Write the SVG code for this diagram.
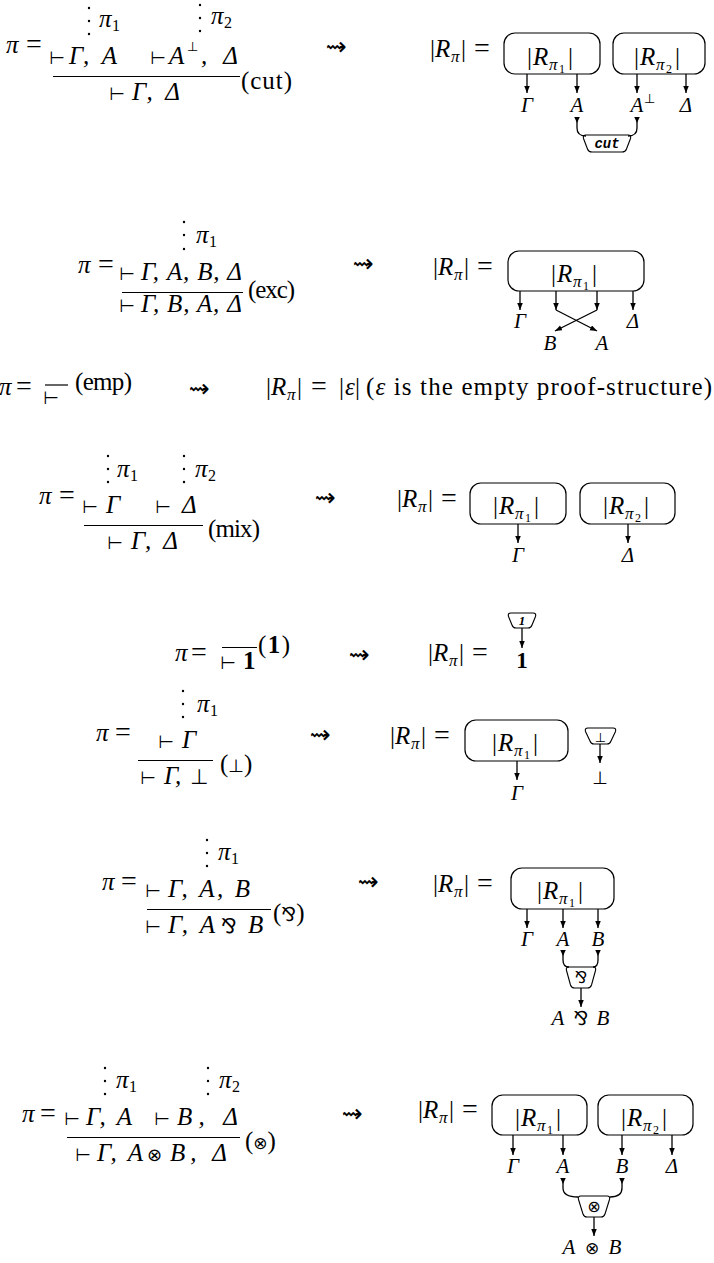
<svg xmlns="http://www.w3.org/2000/svg" width="714" height="1263" viewBox="0 0 714 1263">
<defs>
<style>
.t{font-family:'Liberation Serif','DejaVu Serif',serif;font-size:25px;fill:#000}
.i{font-style:italic}
.b{font-weight:bold}
.s{font-size:17px}
.ss{font-size:12px}
.eq{font-size:28px}
.y{font-family:'DejaVu Sans',sans-serif;font-size:21px;fill:#000}
.tu{font-family:'DejaVu Sans',sans-serif;font-size:18px;fill:#000}
.lb{font-family:'Liberation Serif','DejaVu Serif',serif;font-size:21px;font-style:italic;fill:#000;text-anchor:middle}
.bx{fill:none;stroke:#000;stroke-width:1.2}
.nd{fill:#fff;stroke:#000;stroke-width:1.1}
.w{fill:none;stroke:#000;stroke-width:1.3}
.a{marker-end:url(#ah)}
.tl{marker-start:url(#tl)}
.r{stroke:#000;stroke-width:1.2}
.sq{font-family:'DejaVu Sans',sans-serif;font-size:25px;text-anchor:middle;fill:#000}
</style>
<marker id="ah" markerUnits="userSpaceOnUse" markerWidth="8" markerHeight="6" refX="7" refY="2.75" orient="auto"><path d="M0,0 L7,2.75 L0,5.5 Z"/></marker>
<marker id="tl" markerUnits="userSpaceOnUse" markerWidth="8" markerHeight="6" refX="0" refY="2.75" orient="auto"><path d="M0,0 L6,2.75 L0,5.5 Z"/></marker>
</defs>
<rect width="714" height="1263" fill="#fff"/>

<!-- Row 1: cut -->
<g id="cut-proof">
<circle cx="89" cy="8" r="1.2"/><circle cx="89" cy="21" r="1.2"/><circle cx="89" cy="34" r="1.2"/>
<text class="t"><tspan class="i" x="99" y="27">π</tspan><tspan x="112" y="31" style="font-size:16px">1</tspan></text>
<circle cx="200" cy="5" r="1.2"/><circle cx="200" cy="18" r="1.2"/><circle cx="200" cy="31" r="1.2"/>
<text class="t"><tspan class="i" x="211" y="24">π</tspan><tspan x="224" y="28" style="font-size:16px">2</tspan></text>
<text class="t"><tspan class="i" x="6" y="53">π</tspan><tspan class="eq" x="26" y="53">=</tspan></text>
<text class="tu" x="49" y="64">⊢</text>
<text class="t i" x="69" y="64" textLength="48" lengthAdjust="spacing">Γ, A</text>
<text class="tu" x="150" y="64">⊢</text>
<text class="t i" x="169" y="64">A</text>
<text class="y" x="187" y="51" style="font-size:13px">⊥</text>
<text class="t i" x="201" y="64" textLength="37" lengthAdjust="spacing">, Δ</text>
<line class="r" x1="53" y1="76.5" x2="240" y2="76.5"/>
<text class="t" x="241" y="89" textLength="51" lengthAdjust="spacing">(cut)</text>
<text class="tu" x="109" y="100">⊢</text>
<text class="t i" x="132" y="100" textLength="48" lengthAdjust="spacing">Γ, Δ</text>
<text class="sq" x="336" y="55">⇝</text>
<text class="t"><tspan x="430" y="57">|</tspan><tspan class="i" x="435" y="57">R</tspan><tspan class="i s" x="451" y="62">π</tspan><tspan x="461" y="57">|</tspan><tspan class="eq" x="474" y="57">=</tspan></text>
</g>
<g id="cut-box1">
<rect class="bx" x="504" y="33" width="96" height="41" rx="11"/>
<text class="t"><tspan x="527" y="65">|</tspan><tspan class="i" x="533" y="65">R</tspan><tspan class="i s" x="549" y="70">π</tspan><tspan class="ss" x="559" y="73">1</tspan><tspan x="568" y="65">|</tspan></text>
</g>
<g id="cut-box2">
<rect class="bx" x="613" y="33" width="92" height="41" rx="11"/>
<text class="t"><tspan x="634" y="65">|</tspan><tspan class="i" x="640" y="65">R</tspan><tspan class="i s" x="656" y="70">π</tspan><tspan class="ss" x="666" y="73">2</tspan><tspan x="675" y="65">|</tspan></text>
</g>
<g id="cut-labels">
<text class="lb" x="527" y="112">Γ</text>
<text class="lb" x="577" y="112">A</text>
<text class="lb" x="637" y="112">A</text><text class="y" x="644" y="103" style="font-size:13px">⊥</text>
<text class="lb" x="686" y="112">Δ</text>
</g>
<g id="cut-node">
<path class="nd" d="M586,135 H628 Q631.5,135 630.5,138.5 L626.5,149 Q625.5,152 622,152 H592 Q588.5,152 587.5,149 L583.5,138.5 Q582.5,135 586,135 Z"/>
<text x="607" y="148" style="font-family:'Liberation Mono',monospace;font-size:14px;font-weight:bold;font-style:italic;text-anchor:middle">cut</text>
</g>

<!-- Row 2: exc -->
<g id="exc-proof">
<circle cx="184" cy="222" r="1.2"/><circle cx="184" cy="235" r="1.2"/><circle cx="184" cy="249" r="1.2"/>
<text class="t"><tspan class="i" x="196" y="243">π</tspan><tspan x="209" y="247" style="font-size:16px">1</tspan></text>
<text class="t"><tspan class="i" x="78" y="273">π</tspan><tspan class="eq" x="98" y="273">=</tspan></text>
<text class="tu" x="119" y="280">⊢</text>
<text class="t i" x="141" y="280" textLength="101" lengthAdjust="spacing">Γ, A, B, Δ</text>
<line class="r" x1="122" y1="292.5" x2="243" y2="292.5"/>
<text class="t" x="248" y="298" textLength="47" lengthAdjust="spacing">(exc)</text>
<text class="tu" x="119" y="312">⊢</text>
<text class="t i" x="141" y="312" textLength="101" lengthAdjust="spacing">Γ, B, A, Δ</text>
<text class="sq" x="363" y="272">⇝</text>
<text class="t"><tspan x="433" y="275">|</tspan><tspan class="i" x="438" y="275">R</tspan><tspan class="i s" x="454" y="280">π</tspan><tspan x="464" y="275">|</tspan><tspan class="eq" x="477" y="275">=</tspan></text>
</g>
<g id="exc-box">
<rect class="bx" x="508" y="251" width="136" height="40" rx="11"/>
<text class="t"><tspan x="551" y="282">|</tspan><tspan class="i" x="557" y="282">R</tspan><tspan class="i s" x="573" y="287">π</tspan><tspan class="ss" x="583" y="290">1</tspan><tspan x="592" y="282">|</tspan></text>
</g>
<g id="exc-labels">
<text class="lb" x="520" y="328">Γ</text>
<text class="lb" x="633" y="328">Δ</text>
<text class="lb" x="550" y="350">B</text>
<text class="lb" x="602" y="350">A</text>
</g>

<!-- Row 3: emp -->
<g id="emp">
<text class="t"><tspan class="i" x="-1" y="395">π</tspan><tspan class="eq" x="16" y="395">=</tspan></text>
<line class="r" x1="45" y1="385" x2="68" y2="385"/>
<text class="tu" x="43" y="404">⊢</text>
<text class="t" x="75" y="390" textLength="57" lengthAdjust="spacing">(emp)</text>
<text class="sq" x="199" y="397">⇝</text>
<text class="t"><tspan x="266" y="395">|</tspan><tspan class="i" x="271" y="395">R</tspan><tspan class="i s" x="287" y="400">π</tspan><tspan x="297" y="395">|</tspan><tspan class="eq" x="311" y="395">=</tspan><tspan x="339" y="395">|</tspan><tspan class="i" x="345" y="395">ε</tspan><tspan x="355" y="395">|</tspan></text>
<text class="t" x="366" y="395" textLength="346" lengthAdjust="spacing">(<tspan class="i">ε</tspan> is the empty proof-structure)</text>
</g>

<!-- Row 4: mix -->
<g id="mix-proof">
<circle cx="108" cy="456" r="1.2"/><circle cx="108" cy="469" r="1.2"/><circle cx="108" cy="482" r="1.2"/>
<text class="t"><tspan class="i" x="117" y="477">π</tspan><tspan x="130" y="481" style="font-size:16px">1</tspan></text>
<circle cx="184" cy="456" r="1.2"/><circle cx="184" cy="469" r="1.2"/><circle cx="184" cy="482" r="1.2"/>
<text class="t"><tspan class="i" x="195" y="477">π</tspan><tspan x="208" y="481" style="font-size:16px">2</tspan></text>
<text class="t"><tspan class="i" x="39" y="504">π</tspan><tspan class="eq" x="59" y="504">=</tspan></text>
<text class="tu" x="82" y="513">⊢</text>
<text class="t i" x="106" y="513">Γ</text>
<text class="tu" x="155" y="513">⊢</text>
<text class="t i" x="182" y="513">Δ</text>
<line class="r" x1="84" y1="525.5" x2="203" y2="525.5"/>
<text class="t" x="208" y="537" textLength="52" lengthAdjust="spacing">(mix)</text>
<text class="tu" x="107" y="549">⊢</text>
<text class="t i" x="131" y="549" textLength="47" lengthAdjust="spacing">Γ, Δ</text>
<text class="sq" x="325" y="506">⇝</text>
<text class="t"><tspan x="397" y="507">|</tspan><tspan class="i" x="402" y="507">R</tspan><tspan class="i s" x="418" y="512">π</tspan><tspan x="428" y="507">|</tspan><tspan class="eq" x="441" y="507">=</tspan></text>
</g>
<g id="mix-box1">
<rect class="bx" x="470" y="483" width="96" height="41" rx="11"/>
<text class="t"><tspan x="493" y="514">|</tspan><tspan class="i" x="499" y="514">R</tspan><tspan class="i s" x="515" y="519">π</tspan><tspan class="ss" x="525" y="522">1</tspan><tspan x="534" y="514">|</tspan></text>
</g>
<g id="mix-box2">
<rect class="bx" x="580" y="483" width="95" height="41" rx="11"/>
<text class="t"><tspan x="603" y="514">|</tspan><tspan class="i" x="609" y="514">R</tspan><tspan class="i s" x="625" y="519">π</tspan><tspan class="ss" x="635" y="522">2</tspan><tspan x="644" y="514">|</tspan></text>
</g>
<g id="mix-labels">
<text class="lb" x="518" y="562">Γ</text>
<text class="lb" x="628" y="562">Δ</text>
</g>

<!-- Row 5: one -->
<g id="one-proof">
<text class="t"><tspan class="i" x="175" y="661">π</tspan><tspan class="eq" x="191" y="661">=</tspan></text>
<line class="r" x1="222" y1="647.5" x2="257" y2="647.5"/>
<text class="tu" x="220" y="669">⊢</text>
<text class="t b" x="243" y="669">1</text>
<text class="t" x="258" y="653" textLength="32" lengthAdjust="spacing">(<tspan class="b">1</tspan>)</text>
<text class="sq" x="359" y="663">⇝</text>
<text class="t"><tspan x="428" y="661">|</tspan><tspan class="i" x="433" y="661">R</tspan><tspan class="i s" x="449" y="666">π</tspan><tspan x="459" y="661">|</tspan><tspan class="eq" x="472" y="661">=</tspan></text>
</g>
<g id="one-node">
<path class="nd" d="M511,613 H533 Q536.5,613 535.5,616.5 L532,625 Q531,628 528,628 H516 Q513,628 512,625 L508.5,616.5 Q507.5,613 511,613 Z"/>
<text x="522" y="625" style="font-family:'Liberation Serif',serif;font-size:13px;font-weight:bold;font-style:italic;text-anchor:middle">1</text>
</g>
<g id="one-label">
<text class="t b" x="522" y="668" style="text-anchor:middle;font-size:23px">1</text>
</g>

<!-- Row 6: bot -->
<g id="bot-proof">
<circle cx="183" cy="691" r="1.2"/><circle cx="183" cy="704" r="1.2"/><circle cx="183" cy="717" r="1.2"/>
<text class="t"><tspan class="i" x="197" y="712">π</tspan><tspan x="210" y="716" style="font-size:16px">1</tspan></text>
<text class="t"><tspan class="i" x="96" y="741">π</tspan><tspan class="eq" x="115" y="741">=</tspan></text>
<text class="tu" x="158" y="748">⊢</text>
<text class="t i" x="182" y="748">Γ</text>
<line class="r" x1="138" y1="760.5" x2="213" y2="760.5"/>
<text class="t" x="220" y="772">(<tspan class="y" style="font-size:18px">⊥</tspan>)</text>
<text class="tu" x="140" y="784">⊢</text>
<text class="t i" x="164" y="784">Γ,</text>
<text class="y" x="190" y="784">⊥</text>
<text class="sq" x="320" y="743">⇝</text>
<text class="t"><tspan x="390" y="744">|</tspan><tspan class="i" x="395" y="744">R</tspan><tspan class="i s" x="411" y="749">π</tspan><tspan x="421" y="744">|</tspan><tspan class="eq" x="434" y="744">=</tspan></text>
</g>
<g id="bot-box">
<rect class="bx" x="465" y="720" width="103" height="41" rx="11"/>
<text class="t"><tspan x="492" y="751">|</tspan><tspan class="i" x="498" y="751">R</tspan><tspan class="i s" x="514" y="756">π</tspan><tspan class="ss" x="524" y="759">1</tspan><tspan x="533" y="751">|</tspan></text>
</g>
<g id="bot-node">
<path class="nd" d="M588,728 H613 Q616.5,728 615.5,731.5 L611,741 Q610,744 607,744 H594 Q591,744 590,741 L585.5,731.5 Q584.5,728 588,728 Z"/>
<text class="y" x="600.5" y="742" style="font-size:13px;text-anchor:middle">⊥</text>
</g>
<g id="bot-labels">
<text class="lb" x="517" y="800">Γ</text>
<text class="y" x="600" y="784" style="font-size:18px;text-anchor:middle">⊥</text>
</g>

<!-- Row 7: par -->
<g id="par-proof">
<circle cx="207" cy="840" r="1.2"/><circle cx="207" cy="853" r="1.2"/><circle cx="207" cy="866" r="1.2"/>
<text class="t"><tspan class="i" x="218" y="860">π</tspan><tspan x="231" y="864" style="font-size:16px">1</tspan></text>
<text class="t"><tspan class="i" x="102" y="890">π</tspan><tspan class="eq" x="121" y="890">=</tspan></text>
<text class="tu" x="145" y="897">⊢</text>
<text class="t i" x="168" y="897" textLength="82" lengthAdjust="spacing">Γ, A, B</text>
<line class="r" x1="147" y1="909.5" x2="271" y2="909.5"/>
<text class="t" x="273" y="921">(<tspan class="y" style="font-size:19px">⅋</tspan>)</text>
<text class="tu" x="145" y="933">⊢</text>
<text class="t i" x="168" y="933" textLength="47" lengthAdjust="spacing">Γ, A</text>
<text class="y" x="221" y="933" style="font-size:20px">⅋</text>
<text class="t i" x="248" y="933">B</text>
<text class="sq" x="368" y="890">⇝</text>
<text class="t"><tspan x="433" y="892">|</tspan><tspan class="i" x="438" y="892">R</tspan><tspan class="i s" x="454" y="897">π</tspan><tspan x="464" y="892">|</tspan><tspan class="eq" x="477" y="892">=</tspan></text>
</g>
<g id="par-box">
<rect class="bx" x="511" y="868" width="103" height="41" rx="11"/>
<text class="t"><tspan x="537" y="899">|</tspan><tspan class="i" x="543" y="899">R</tspan><tspan class="i s" x="559" y="904">π</tspan><tspan class="ss" x="569" y="907">1</tspan><tspan x="578" y="899">|</tspan></text>
</g>
<g id="par-labels">
<text class="lb" x="527" y="946">Γ</text>
<text class="lb" x="563" y="946">A</text>
<text class="lb" x="598" y="946">B</text>
</g>
<g id="par-node">
<path class="nd" d="M569,967 H593 Q596.5,967 595.5,970.5 L591.5,985 Q590.5,988 587.5,988 H574.5 Q571.5,988 570.5,985 L566.5,970.5 Q565.5,967 569,967 Z"/>
<text class="y" x="581" y="983" style="font-size:16px;text-anchor:middle">⅋</text>
</g>
<g id="par-out">
<text class="lb" x="558" y="1025">A</text>
<text class="y" x="581" y="1025" style="font-size:19px;text-anchor:middle">⅋</text>
<text class="lb" x="603" y="1025">B</text>
</g>

<!-- Row 8: tensor -->
<g id="ten-proof">
<circle cx="105" cy="1068" r="1.2"/><circle cx="105" cy="1081" r="1.2"/><circle cx="105" cy="1094" r="1.2"/>
<text class="t"><tspan class="i" x="116" y="1088">π</tspan><tspan x="129" y="1092" style="font-size:16px">1</tspan></text>
<circle cx="208" cy="1068" r="1.2"/><circle cx="208" cy="1081" r="1.2"/><circle cx="208" cy="1094" r="1.2"/>
<text class="t"><tspan class="i" x="219" y="1088">π</tspan><tspan x="232" y="1092" style="font-size:16px">2</tspan></text>
<text class="t"><tspan class="i" x="22" y="1122">π</tspan><tspan class="eq" x="40" y="1122">=</tspan></text>
<text class="tu" x="64" y="1125">⊢</text>
<text class="t i" x="86" y="1125" textLength="46" lengthAdjust="spacing">Γ, A</text>
<text class="tu" x="154" y="1125">⊢</text>
<text class="t i" x="177" y="1125" textLength="61" lengthAdjust="spacing">B, Δ</text>
<line class="r" x1="67" y1="1137.5" x2="240" y2="1137.5"/>
<text class="t" x="245" y="1149">(<tspan class="y" style="font-size:17px">⊗</tspan>)</text>
<text class="tu" x="75" y="1161">⊢</text>
<text class="t i" x="97" y="1161" textLength="46" lengthAdjust="spacing">Γ, A</text>
<text class="y" x="147" y="1161" style="font-size:18px">⊗</text>
<text class="t i" x="170" y="1161" textLength="57" lengthAdjust="spacing">B, Δ</text>
<text class="sq" x="352" y="1122">⇝</text>
<text class="t"><tspan x="418" y="1118">|</tspan><tspan class="i" x="423" y="1118">R</tspan><tspan class="i s" x="439" y="1123">π</tspan><tspan x="449" y="1118">|</tspan><tspan class="eq" x="462" y="1118">=</tspan></text>
</g>
<g id="ten-box1">
<rect class="bx" x="492" y="1095" width="95" height="40" rx="11"/>
<text class="t"><tspan x="515" y="1126">|</tspan><tspan class="i" x="521" y="1126">R</tspan><tspan class="i s" x="537" y="1131">π</tspan><tspan class="ss" x="547" y="1134">1</tspan><tspan x="556" y="1126">|</tspan></text>
</g>
<g id="ten-box2">
<rect class="bx" x="598" y="1095" width="95" height="40" rx="11"/>
<text class="t"><tspan x="621" y="1126">|</tspan><tspan class="i" x="627" y="1126">R</tspan><tspan class="i s" x="643" y="1131">π</tspan><tspan class="ss" x="653" y="1134">2</tspan><tspan x="662" y="1126">|</tspan></text>
</g>
<g id="ten-labels">
<text class="lb" x="513" y="1173">Γ</text>
<text class="lb" x="563" y="1173">A</text>
<text class="lb" x="622" y="1173">B</text>
<text class="lb" x="672" y="1173">Δ</text>
</g>
<g id="ten-node">
<path class="nd" d="M581,1196 H607 Q610.5,1196 609.5,1199.5 L605,1214 Q604,1217 601,1217 H587 Q584,1217 583,1214 L578.5,1199.5 Q577.5,1196 581,1196 Z"/>
<text class="y" x="594" y="1212" style="font-size:16px;text-anchor:middle">⊗</text>
</g>
<g id="ten-out">
<text class="lb" x="569" y="1254">A</text>
<text class="y" x="592" y="1254" style="font-size:17px;text-anchor:middle">⊗</text>
<text class="lb" x="615" y="1254">B</text>
</g>

<g id="connectors">
<path class="w a" d="M527,74 V93"/>
<path class="w a" d="M577,74 V93"/>
<path class="w a" d="M637,74 V93"/>
<path class="w a" d="M686,74 V93"/>
<path class="w tl" d="M577,117 V128 Q577,136 586,136"/>
<path class="w tl" d="M637,117 V128 Q637,136 628,136"/>
<path class="w a" d="M520,291 V310"/>
<path class="w a" d="M556,291 V310"/>
<path class="w a" d="M597,291 V310"/>
<path class="w a" d="M633,291 V310"/>
<path class="w a" d="M556,310 L597,331"/>
<path class="w a" d="M597,310 L555,331"/>
<path class="w a" d="M518,524 V543"/>
<path class="w a" d="M628,524 V543"/>
<path class="w a" d="M522,628 V648"/>
<path class="w a" d="M517,761 V780"/>
<path class="w a" d="M600,744 V763"/>
<path class="w a" d="M527,909 V928"/>
<path class="w a" d="M563,909 V928"/>
<path class="w a" d="M598,909 V928"/>
<path class="w tl" d="M563,950 V960 Q563,967 569,967"/>
<path class="w tl" d="M598,950 V960 Q598,967 593,967"/>
<path class="w a" d="M581,988 V1007"/>
<path class="w a" d="M513,1135 V1155"/>
<path class="w a" d="M563,1135 V1155"/>
<path class="w a" d="M622,1135 V1155"/>
<path class="w a" d="M672,1135 V1155"/>
<path class="w tl" d="M563,1178 V1188 Q563,1197 578,1197"/>
<path class="w tl" d="M622,1178 V1188 Q622,1197 610,1197"/>
<path class="w a" d="M594,1217 V1236"/>
</g>
</svg>
